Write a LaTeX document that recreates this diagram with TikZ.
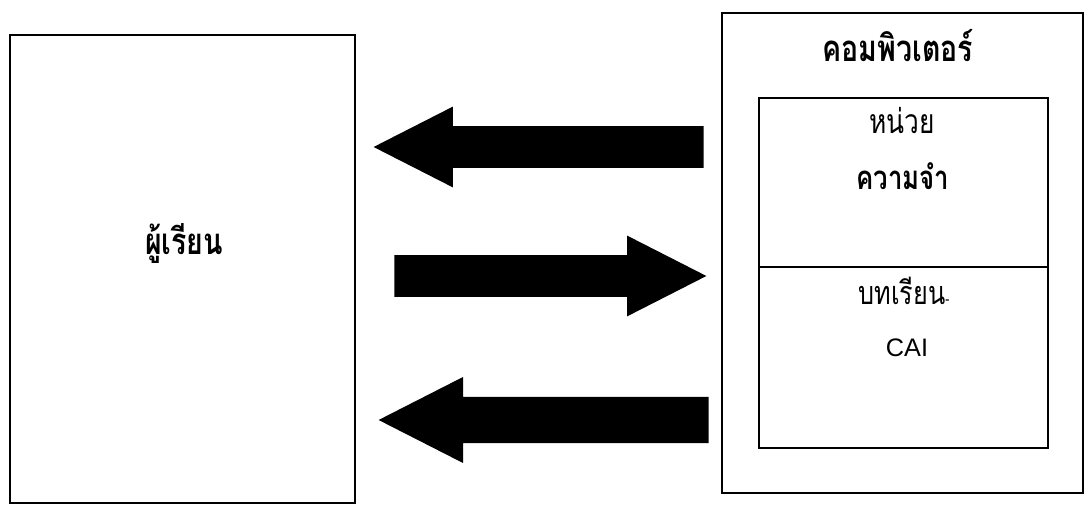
\documentclass[tikz,border=0pt]{standalone}
\usepackage{fontspec}
\setsansfont{Liberation Sans}
\newfontfamily\thaifont[Script=Thai,FakeStretch=0.78]{Loma}
\usetikzlibrary{arrows.meta,positioning,shapes.arrows,calc}

\begin{document}
\begin{tikzpicture}[font=\thaifont,
  box/.style={draw,line width=1.8pt,inner sep=0pt,outer sep=0pt},
  fatarrow/.style={single arrow,fill=black,draw=none,inner xsep=0pt,inner ysep=0.5125cm,
    minimum height=8.25cm,minimum width=2cm,single arrow head extend=0.49cm,
    single arrow tip angle=54,anchor=tip},
  bigtxt/.style={font=\thaifont\bfseries\fontsize{26}{28}\selectfont,anchor=base},
  smalltxt/.style={font=\thaifont\fontsize{24}{26}\selectfont,anchor=base}]
\useasboundingbox (0,0) rectangle (27.1,12.65);
% the learner and the computer
\node[box,minimum width=8.625cm,minimum height=11.7cm] (learner) at (4.5625,5.925) {};
\node[box,minimum width=9.025cm,minimum height=12cm] (computer) at (22.5625,6.325) {};
\node[box,minimum width=7.225cm,minimum height=4.225cm] (memory) at (22.5875,8.0875) {};
\node[box,minimum width=7.225cm,minimum height=4.525cm,below=0pt of memory] (lesson) {};
% labels
\node[bigtxt] (learnerlbl) at (4.6,6.275) {ผู้เรียน};
\node[bigtxt] (computerlbl) at (22.45,11.1) {คอมพิวเตอร์};
\node[smalltxt] (unitlbl) at (22.55,9.3) {หน่วย};
\node[bigtxt,font=\thaifont\bfseries\fontsize{23.5}{26}\selectfont] (memorylbl) at (22.575,7.9) {ความจำ};
\node[smalltxt,font=\thaifont\fontsize{23}{26}\selectfont] (lessonlbl) at (22.6,5.025) {บทเรียน{\fontsize{11}{11}\selectfont -}};
\node[anchor=base,font=\sffamily\fontsize{18}{20}\selectfont] (cailbl) at (22.675,3.725) {CAI};
% data flow between them
\node[fatarrow,shape border rotate=180] (toplearner) at (9.325,8.975) {};
\node[fatarrow,minimum height=7.8cm] (tocomputer) at (17.675,5.75) {};
\node[fatarrow,shape border rotate=180,inner ysep=0.5625cm,minimum width=2.15cm] (backlearner) at (9.45,2.15) {};
\end{tikzpicture}
\end{document}
